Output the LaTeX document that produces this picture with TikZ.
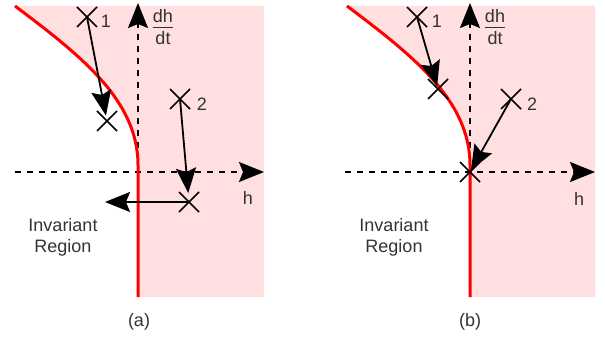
\documentclass[tikz,border=0pt]{standalone}
\usepackage{fontspec}
\setmainfont{Liberation Sans}
\usetikzlibrary{arrows.meta,shapes.misc}
\definecolor{pinkfill}{RGB}{255,223,224}
\definecolor{txtgray}{RGB}{51,51,51}
\newcommand{\dhdt}{{\setlength{\arrayrulewidth}{1pt}\begin{tabular}{@{}c@{}}dh\\[-1pt]\hline\rule{0pt}{15.7pt}dt\end{tabular}}}
\tikzset{
  xmark/.style={cross out, draw=black, line width=1.7pt, minimum size=20pt, inner sep=0pt, outer sep=0pt},
  tipshape/.tip={Stealth[length=25pt, width=20pt, inset=4pt]},
  arr/.style={line width=1.8pt, -tipshape},
  axis/.style={line width=1.6pt, dash pattern=on 6pt off 6pt, -tipshape},
  redc/.style={draw=red, line width=3pt},
  lbl/.style={text=txtgray, font=\fontsize{18}{21}\selectfont, inner sep=0pt},
}
\begin{document}
\begin{tikzpicture}[x=1pt, y=-1pt]
\useasboundingbox (0,0) rectangle (605,339);
% ---------- panel (a) ----------
\fill[pinkfill] (15,6) .. controls (80,55) and (138,100) .. (138,165) -- (138,297) -- (264,297) -- (264,6) -- cycle;
\coordinate (oa) at (138,172);
\coordinate (xa0) at (15,172);
\coordinate (xa1) at (264,172);
\coordinate (ya1) at (138,3);
\draw[axis] (xa0) -- (xa1);
\draw[axis] (oa) -- (ya1);
\draw[redc] (15,6) .. controls (80,55) and (138,100) .. (138,165) -- (138,297);
\node[xmark] (a1) at (87,17) {};
\node[xmark] (a2) at (107,121) {};
\node[xmark] (a3) at (180,99) {};
\node[xmark] (a4) at (189,202) {};
\coordinate (aleft) at (105,202);
\draw[arr, shorten >=5.5pt] (a1.center) -- (a2.center);
\draw[arr, shorten >=9pt] (a3.center) -- (a4.center);
\draw[arr] (a4.center) -- (aleft);
\node[lbl] (la1) at (106,21) {1};
\node[lbl] (la2) at (202,104) {2};
\node[lbl] (lah) at (248,198) {h};
\node[lbl] (lady) at (163,29) {\dhdt};
\node[lbl, align=center] (lainv) at (63,237) {Invariant\\Region};
\node[lbl] (lacap) at (139,322) {(a)};
% ---------- panel (b) ----------
\fill[pinkfill] (347,6) .. controls (412,55) and (470,100) .. (470,165) -- (470,297) -- (595,297) -- (595,6) -- cycle;
\coordinate (ob) at (470,172);
\coordinate (xb0) at (345,172);
\coordinate (xb1) at (595,172);
\coordinate (yb1) at (470,3);
\draw[axis] (xb0) -- (xb1);
\draw[axis] (ob) -- (yb1);
\draw[redc] (347,6) .. controls (412,55) and (470,100) .. (470,165) -- (470,297);
\node[xmark] (b1) at (417,17) {};
\node[xmark] (b2) at (438,89) {};
\node[xmark] (b3) at (511,99) {};
\node[xmark] (b4) at (470,172) {};
\draw[arr, shorten >=3pt] (b1.center) -- (b2.center);
\draw[arr, shorten >=2pt] (b3.center) -- (b4.center);
\node[lbl] (lb1) at (437,21) {1};
\node[lbl] (lb2) at (532,104) {2};
\node[lbl] (lbh) at (579,199) {h};
\node[lbl] (lbdy) at (495,29) {\dhdt};
\node[lbl, align=center] (lbinv) at (394,237) {Invariant\\Region};
\node[lbl] (lbcap) at (470,322) {(b)};
\end{tikzpicture}
\end{document}
